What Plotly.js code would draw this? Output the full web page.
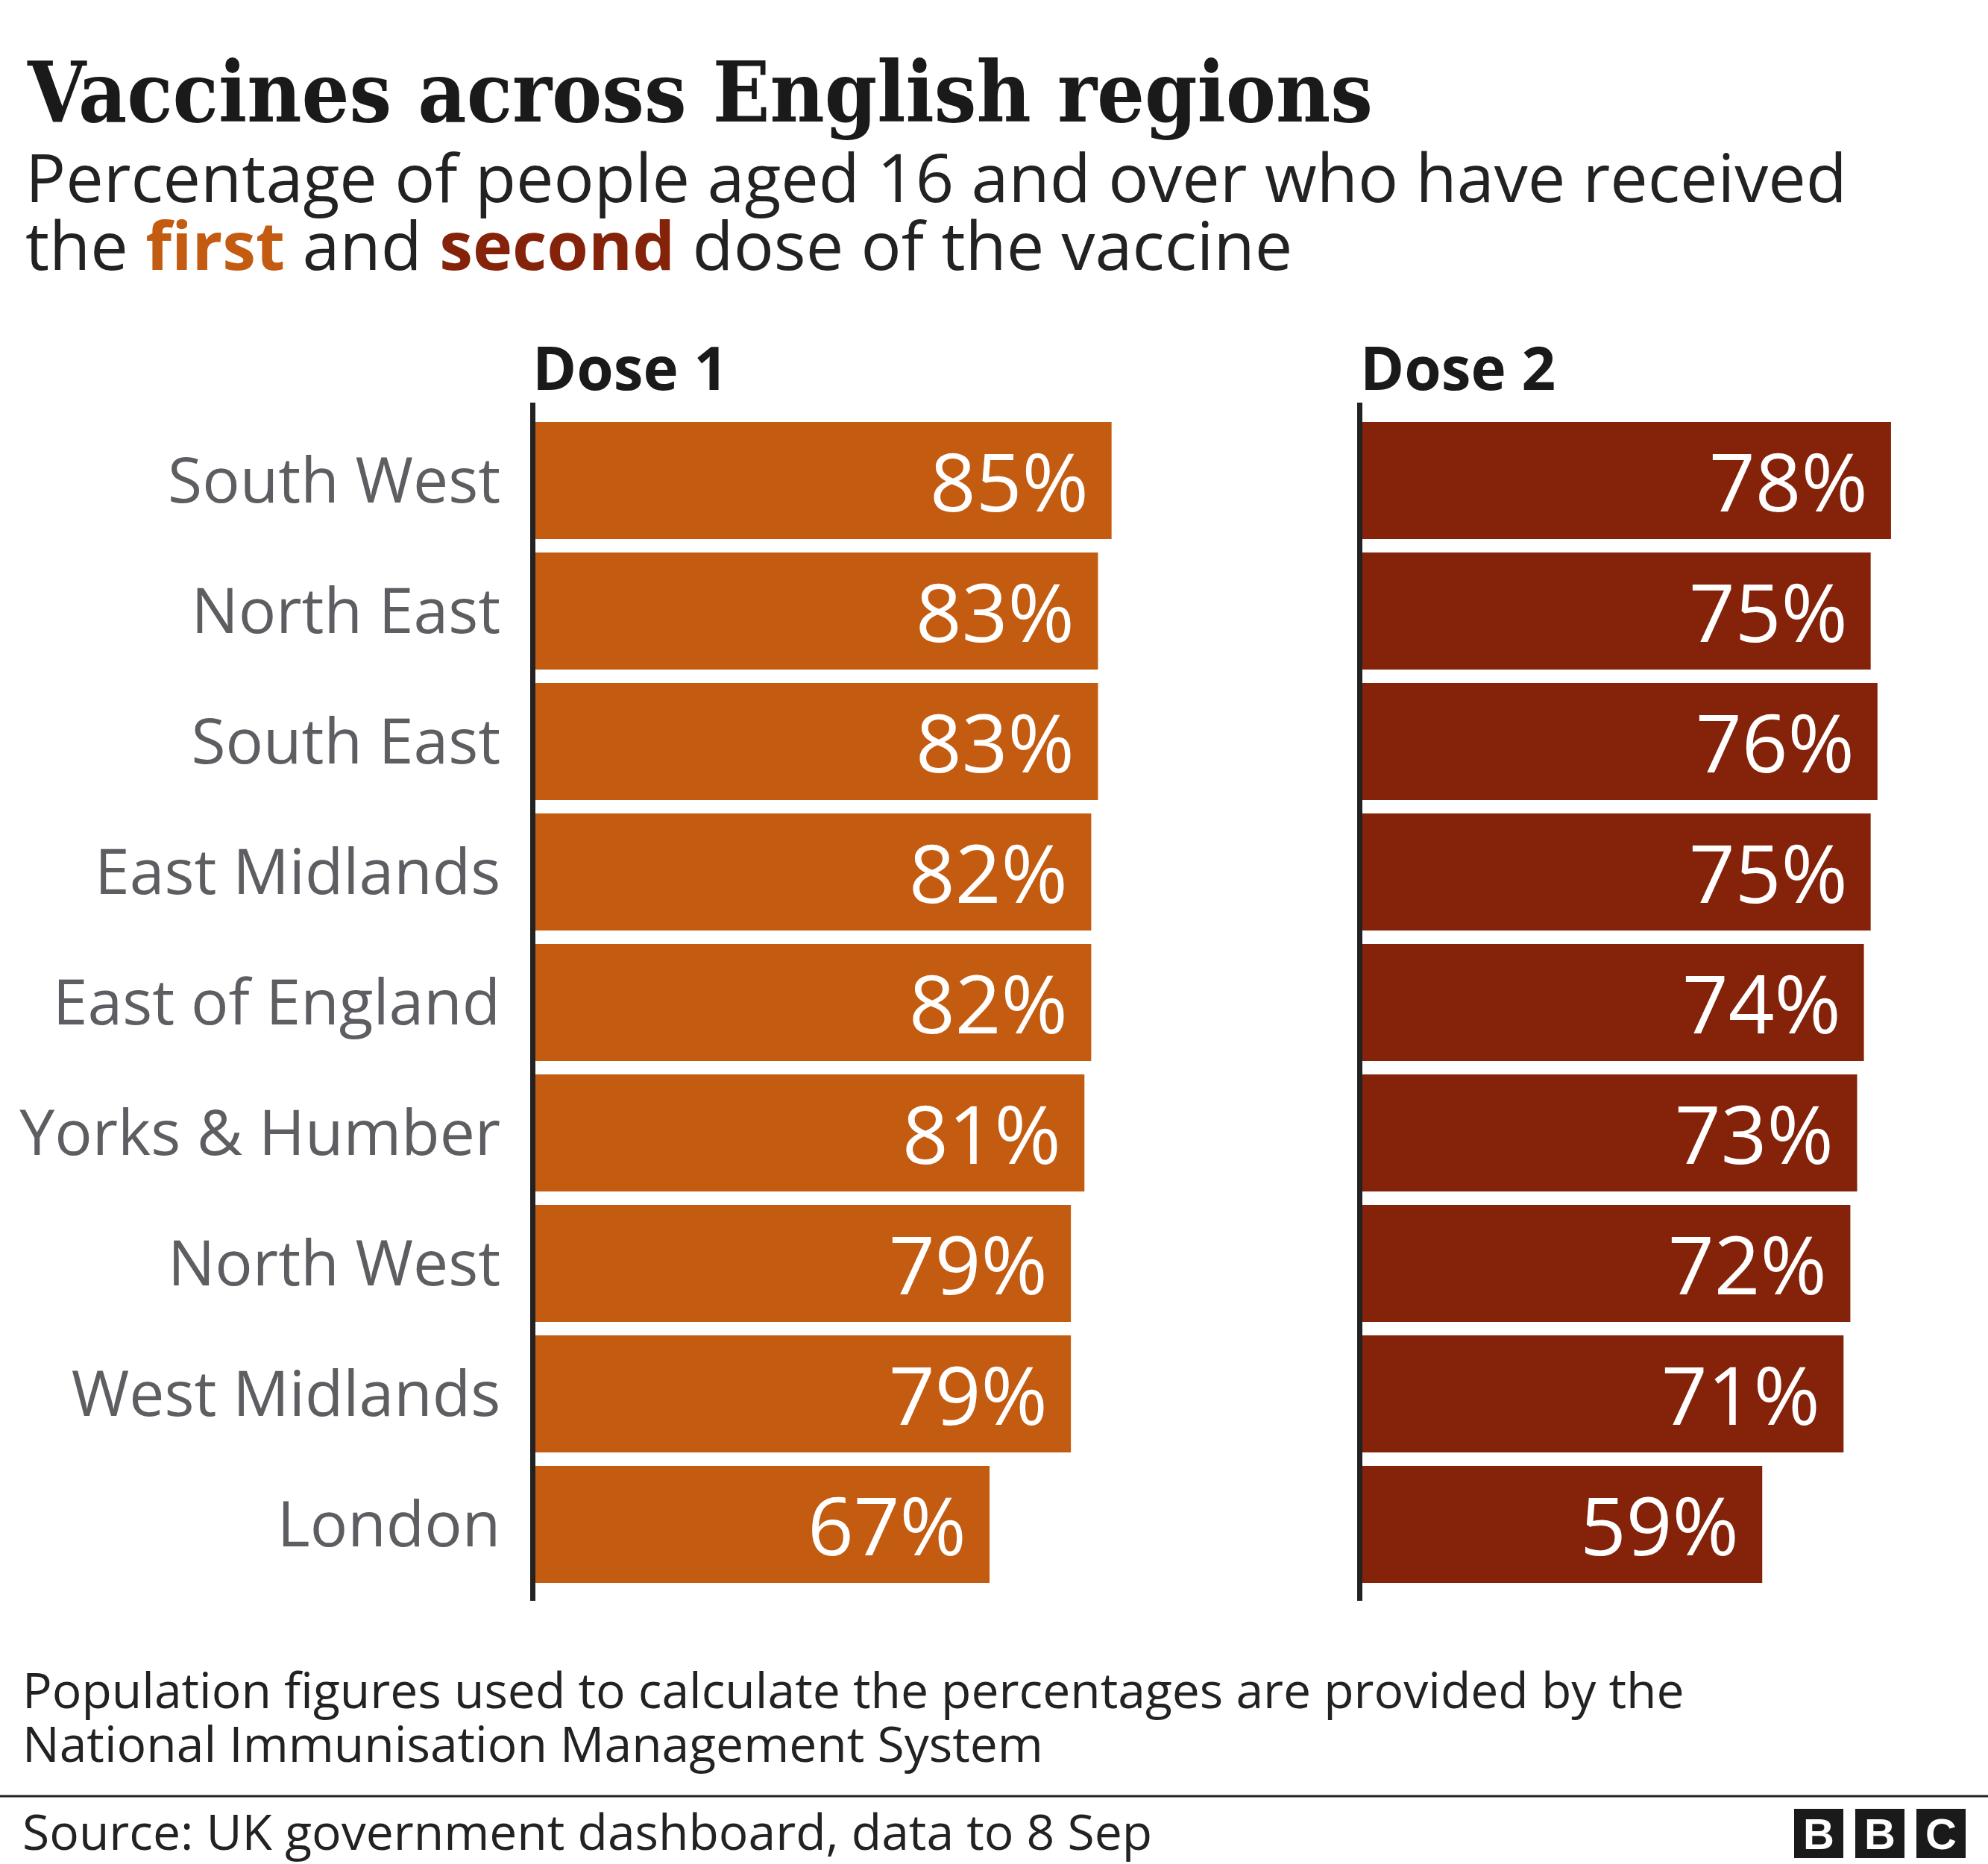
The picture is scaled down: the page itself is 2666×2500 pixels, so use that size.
<!DOCTYPE html>
<html>
<head>
<meta charset="utf-8">
<script src="https://cdn.plot.ly/plotly-3.0.1.min.js"></script>
<style>
  html, body { margin: 0; padding: 0; background: #fff; }
  #chart { width: 2666px; height: 2500px; }
</style>
</head>
<body>
<div id="chart"></div>
<script>
// ==================================================
// Data
// ==================================================

const regions = [
  "South West", "North East", "South East", "East Midlands", "East of England",
  "Yorks & Humber", "North West", "West Midlands", "London"
];
const dose1 = [85, 83, 83, 82, 82, 81, 79, 79, 67];
const dose2 = [78, 75, 76, 75, 74, 73, 72, 71, 59];

const panelTitles = ["Dose 1", "Dose 2"];

const titleText = "Vaccines across English regions";
const subtitleLines = [
  "Percentage of people aged 16 and over who have received",
  "the <b><span style='color:#c35b11'>first</span></b> and <b><span style='color:#84230a'>second</span></b> dose of the vaccine"
];
const noteLines = [
  "Population figures used to calculate the percentages are provided by the",
  "National Immunisation Management System"
];
const sourceText = "Source: UK government dashboard, data to 8 Sep";

// ==================================================
// Helpers
// ==================================================

const W = 2666;
const H = 2500;
const px = v => v / W;
const py = v => 1 - v / H;

const SANS = "Open Sans, Noto Sans, sans-serif";
const COLOR_D1 = "#c35b11";
const COLOR_D2 = "#84230a";

function textNote(text, x, y, size, opts = {}) {
  return Object.assign({
    xref: "paper", yref: "paper",
    x: px(x), y: py(y),
    xanchor: "left", yanchor: "middle",
    text: text,
    showarrow: false,
    font: { family: SANS, size: size, color: "#222222" },
  }, opts);
}

function valueLabels(values, xa, ya) {
  return values.map((v, i) => ({
    xref: xa, yref: ya,
    x: v, y: regions[i],
    xanchor: "right", yanchor: "middle",
    xshift: -29,
    text: v + "%",
    showarrow: false,
    font: { family: SANS, size: 108, color: "#ffffff" },
  }));
}

// ==================================================
// Traces
// ==================================================

const traces = [
  {
    type: "bar", orientation: "h",
    x: dose1, y: regions,
    xaxis: "x", yaxis: "y",
    marker: { color: COLOR_D1, line: { width: 0 } },
    hoverinfo: "skip",
  },
  {
    type: "bar", orientation: "h",
    x: dose2, y: regions,
    xaxis: "x2", yaxis: "y2",
    marker: { color: COLOR_D2, line: { width: 0 } },
    hoverinfo: "skip",
  },
];

// ==================================================
// Layout
// ==================================================

const yDomain = [py(2147), py(540)];
const yRange = [8.586, -0.597];

const baseY = {
  type: "category",
  domain: yDomain,
  range: yRange,
  showline: true,
  linecolor: "#222222",
  linewidth: 7,
  showgrid: false,
  zeroline: false,
  ticks: "",
  fixedrange: true,
};

const annotations = [
  textNote(titleText, 34, 123, 112, {
    font: { family: "DejaVu Serif Condensed, DejaVu Serif, serif", size: 112, color: "#1a1a1a", weight: 700, stretch: "condensed" },
  }),
  textNote(subtitleLines[0], 32, 236, 90),
  textNote(subtitleLines[1], 32, 327, 90),
  textNote("<b>" + panelTitles[0] + "</b>", 712, 492, 80, { font: { family: SANS, size: 80, color: "#1a1a1a" } }),
  textNote("<b>" + panelTitles[1] + "</b>", 1822, 492, 80, { font: { family: SANS, size: 80, color: "#1a1a1a" } }),
  textNote(noteLines[0], 28, 2265, 66),
  textNote(noteLines[1], 28, 2337, 66),
  textNote(sourceText, 28, 2455, 66),
  ...valueLabels(dose1, "x", "y"),
  ...valueLabels(dose2, "x2", "y2"),
];

// BBC blocks
const logoLetters = ["B", "B", "C"];
const logoLeft = [2406, 2488, 2570];
const shapes = [
  {
    type: "line", xref: "paper", yref: "paper",
    x0: 0, x1: 1, y0: py(2409), y1: py(2409),
    line: { color: "#222222", width: 3 },
  },
];
logoLetters.forEach((ch, i) => {
  shapes.push({
    type: "rect", xref: "paper", yref: "paper",
    x0: px(logoLeft[i]), x1: px(logoLeft[i] + 66),
    y0: py(2492), y1: py(2426),
    fillcolor: "#1a1a1a", line: { width: 0 },
  });
  annotations.push({
    xref: "paper", yref: "paper",
    x: px(logoLeft[i] + 33), y: py(2459),
    xanchor: "center", yanchor: "middle",
    text: "<b>" + ch + "</b>", showarrow: false,
    font: { family: "Liberation Sans, Arial, sans-serif", size: 58, color: "#ffffff" },
  });
});

const layout = {
  width: W,
  height: H,
  margin: { l: 0, r: 0, t: 0, b: 0, pad: 0 },
  paper_bgcolor: "#ffffff",
  plot_bgcolor: "rgba(0,0,0,0)",
  showlegend: false,
  bargap: 0.103,
  xaxis: {
    domain: [px(718), px(1627)], range: [0, 100], anchor: "y",
    visible: false, fixedrange: true,
  },
  xaxis2: {
    domain: [px(1827), px(2645)], range: [0, 90], anchor: "y2",
    visible: false, fixedrange: true,
  },
  yaxis: Object.assign({}, baseY, {
    anchor: "x",
    tickfont: { family: SANS, size: 84, color: "#5d5d62" },
    ticklabelstandoff: 23,
  }),
  yaxis2: Object.assign({}, baseY, {
    anchor: "x2",
    showticklabels: false,
  }),
  annotations: annotations,
  shapes: shapes,
};

Plotly.newPlot("chart", traces, layout, { displayModeBar: false, staticPlot: true });
</script>
</body>
</html>
